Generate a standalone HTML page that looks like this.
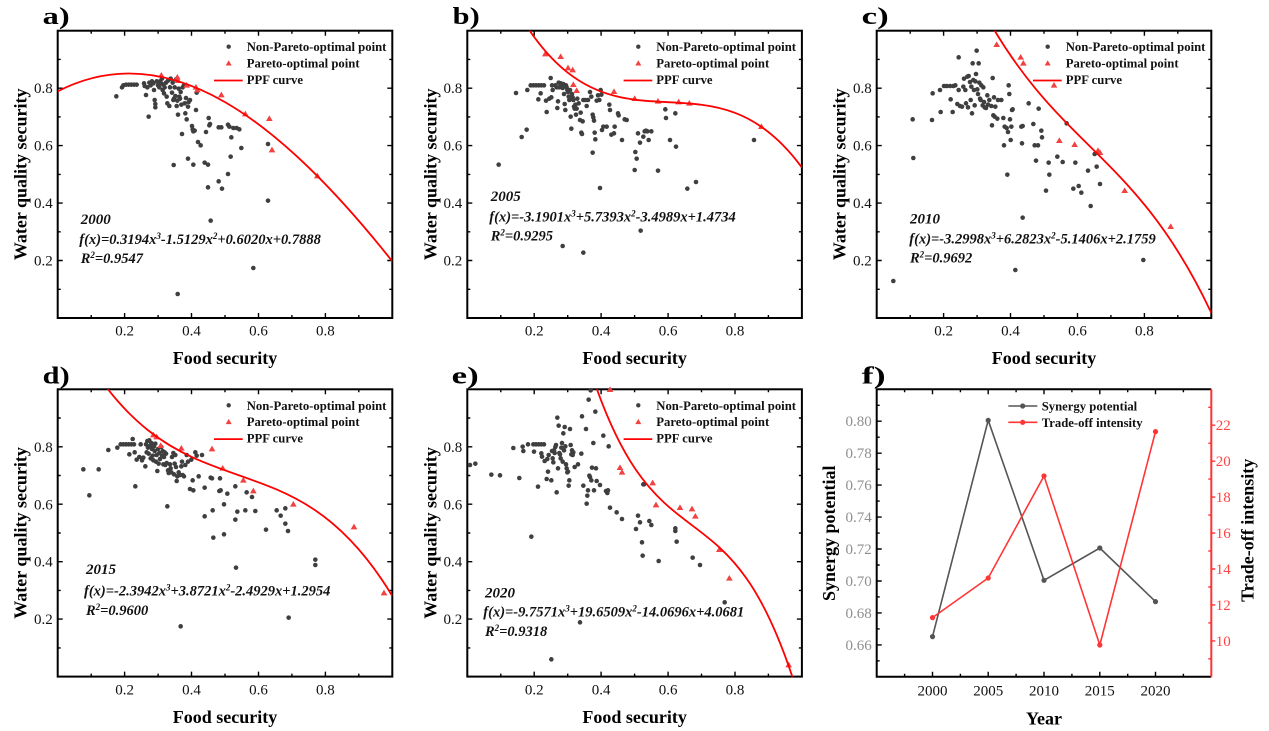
<!DOCTYPE html>
<html><head><meta charset="utf-8"><style>
html,body{margin:0;padding:0;background:#fff}
svg{display:block;font-family:"Liberation Serif","Times New Roman",serif}
</style></head><body>
<svg width="1269" height="731" viewBox="0 0 1269 731" xmlns="http://www.w3.org/2000/svg" xmlns:xlink="http://www.w3.org/1999/xlink">
<defs>
<clipPath id="cp" clipPathUnits="userSpaceOnUse"><rect x="0" y="0" width="1" height="1"/></clipPath>
<path id="t" d="M0-10L10 7H-10Z"/>
<g id="fr">
<rect x="0" y="0" width="334.6" height="287.3" fill="none" stroke="#000" stroke-width="2"/>
<path fill="none" stroke="#000" stroke-width="1.4" d="M66.9 287.3v-5M133.8 287.3v-5M200.8 287.3v-5M267.7 287.3v-5M33.5 287.3v-3M100.4 287.3v-3M167.3 287.3v-3M234.2 287.3v-3M301.1 287.3v-3M66.9 0v5M133.8 0v5M200.8 0v5M267.7 0v5M33.5 0v3M100.4 0v3M167.3 0v3M234.2 0v3M301.1 0v3M0 57.5h5M0 114.9h5M0 172.4h5M0 229.8h5M0 28.7h3M0 86.2h3M0 143.7h3M0 201.1h3M0 258.6h3M334.6 57.5h-5M334.6 114.9h-5M334.6 172.4h-5M334.6 229.8h-5M334.6 28.7h-3M334.6 86.2h-3M334.6 143.7h-3M334.6 201.1h-3M334.6 258.6h-3"/>
<g font-size="15" fill="#111" text-anchor="middle">
<text x="66.9" y="305">0.2</text><text x="133.8" y="305">0.4</text><text x="200.8" y="305">0.6</text><text x="267.7" y="305">0.8</text>
</g>
<g font-size="15" fill="#111" text-anchor="end">
<text x="-5" y="62.5">0.8</text><text x="-5" y="120">0.6</text><text x="-5" y="177.4">0.4</text><text x="-5" y="234.8">0.2</text>
</g>
<text x="167.3" y="333.5" font-size="18" font-weight="bold" text-anchor="middle">Food security</text>
<text transform="translate(-31,143.6) rotate(-90)" font-size="18" font-weight="bold" text-anchor="middle">Water quality security</text>
<circle cx="171" cy="16" r="2.2" fill="#404040"/>
<path d="M171 29.6L174 34.8H168Z" fill="#f24141"/>
<path d="M156.3 49.8H185" stroke="#ff0000" stroke-width="1.8"/>
<g font-size="12.7" font-weight="bold" fill="#111">
<text x="189" y="20.5">Non-Pareto-optimal point</text>
<text x="189" y="36.8">Pareto-optimal point</text>
<text x="189" y="53.2">PPF curve</text>
</g>
</g>
</defs>

<use href="#fr" xlink:href="#fr" x="57.7" y="30.7"/>
<use href="#fr" xlink:href="#fr" x="467.3" y="30.7"/>
<use href="#fr" xlink:href="#fr" x="876.7" y="30.7"/>
<use href="#fr" xlink:href="#fr" x="57.7" y="389.3"/>
<use href="#fr" xlink:href="#fr" x="467.3" y="389.3"/>

<g font-size="24" font-weight="bold" fill="#000">
<text x="42.7" y="24" textLength="27" lengthAdjust="spacingAndGlyphs">a)</text>
<text x="452.7" y="24" textLength="27" lengthAdjust="spacingAndGlyphs">b)</text>
<text x="861.7" y="24" textLength="27" lengthAdjust="spacingAndGlyphs">c)</text>
<text x="42.7" y="383.3" textLength="27" lengthAdjust="spacingAndGlyphs">d)</text>
<text x="451.7" y="383.3" textLength="27" lengthAdjust="spacingAndGlyphs">e)</text>
<text x="861.7" y="383.3" textLength="24" lengthAdjust="spacingAndGlyphs">f)</text>
</g>

<g fill="#3f3f3f" transform="translate(0 0) scale(0.333333)">
<circle cx="349" cy="289" r="6.9"/><circle cx="366" cy="262" r="6.9"/><circle cx="370" cy="256" r="6.9"/><circle cx="378" cy="254" r="6.9"/><circle cx="386" cy="254" r="6.9"/><circle cx="394" cy="254" r="6.9"/><circle cx="402" cy="254" r="6.9"/><circle cx="410" cy="254" r="6.9"/>
<circle cx="432" cy="250" r="6.9"/><circle cx="434" cy="258" r="6.9"/><circle cx="438" cy="285" r="6.9"/><circle cx="442" cy="262" r="6.9"/><circle cx="446" cy="350" r="6.9"/><circle cx="448" cy="248" r="6.9"/><circle cx="452" cy="256" r="6.9"/><circle cx="456" cy="244" r="6.9"/><circle cx="460" cy="250" r="6.9"/><circle cx="462" cy="270" r="6.9"/><circle cx="464" cy="300" r="6.9"/><circle cx="466" cy="312" r="6.9"/><circle cx="466" cy="322" r="6.9"/><circle cx="470" cy="244" r="6.9"/><circle cx="474" cy="256" r="6.9"/><circle cx="478" cy="262" r="6.9"/><circle cx="480" cy="244" r="6.9"/><circle cx="484" cy="250" r="6.9"/><circle cx="486" cy="236" r="6.9"/><circle cx="488" cy="270" r="6.9"/><circle cx="490" cy="254" r="6.9"/><circle cx="492" cy="280" r="6.9"/><circle cx="494" cy="262" r="6.9"/><circle cx="498" cy="248" r="6.9"/><circle cx="500" cy="290" r="6.9"/><circle cx="502" cy="310" r="6.9"/><circle cx="504" cy="242" r="6.9"/><circle cx="508" cy="318" r="6.9"/><circle cx="510" cy="262" r="6.9"/><circle cx="512" cy="236" r="6.9"/><circle cx="516" cy="278" r="6.9"/><circle cx="518" cy="248" r="6.9"/><circle cx="520" cy="300" r="6.9"/><circle cx="522" cy="296" r="6.9"/><circle cx="524" cy="262" r="6.9"/><circle cx="526" cy="288" r="6.9"/><circle cx="528" cy="238" r="6.9"/><circle cx="530" cy="318" r="6.9"/><circle cx="532" cy="302" r="6.9"/><circle cx="534" cy="344" r="6.9"/><circle cx="536" cy="266" r="6.9"/><circle cx="538" cy="290" r="6.9"/><circle cx="540" cy="296" r="6.9"/><circle cx="542" cy="276" r="6.9"/><circle cx="544" cy="314" r="6.9"/><circle cx="546" cy="402" r="6.9"/><circle cx="548" cy="262" r="6.9"/><circle cx="552" cy="256" r="6.9"/><circle cx="554" cy="310" r="6.9"/><circle cx="556" cy="340" r="6.9"/><circle cx="558" cy="294" r="6.9"/><circle cx="560" cy="358" r="6.9"/><circle cx="564" cy="320" r="6.9"/><circle cx="566" cy="306" r="6.9"/><circle cx="570" cy="300" r="6.9"/><circle cx="576" cy="378" r="6.9"/><circle cx="578" cy="388" r="6.9"/><circle cx="580" cy="394" r="6.9"/><circle cx="584" cy="392" r="6.9"/><circle cx="588" cy="330" r="6.9"/><circle cx="590" cy="278" r="6.9"/><circle cx="594" cy="426" r="6.9"/><circle cx="602" cy="436" r="6.9"/><circle cx="614" cy="488" r="6.9"/><circle cx="624" cy="494" r="6.9"/><circle cx="626" cy="354" r="6.9"/><circle cx="628" cy="376" r="6.9"/><circle cx="630" cy="372" r="6.9"/><circle cx="618" cy="396" r="6.9"/><circle cx="580" cy="494" r="6.9"/><circle cx="564" cy="476" r="6.9"/><circle cx="656" cy="382" r="6.9"/><circle cx="664" cy="382" r="6.9"/><circle cx="684" cy="374" r="6.9"/><circle cx="688" cy="380" r="6.9"/><circle cx="694" cy="412" r="6.9"/><circle cx="700" cy="384" r="6.9"/><circle cx="710" cy="384" r="6.9"/><circle cx="718" cy="388" r="6.9"/><circle cx="724" cy="444" r="6.9"/><circle cx="692" cy="470" r="6.9"/><circle cx="656" cy="544" r="6.9"/><circle cx="666" cy="566" r="6.9"/><circle cx="684" cy="522" r="6.9"/><circle cx="624" cy="562" r="6.9"/><circle cx="632" cy="662" r="6.9"/><circle cx="533" cy="882" r="6.9"/><circle cx="760" cy="804" r="6.9"/><circle cx="804" cy="432" r="6.9"/><circle cx="804" cy="602" r="6.9"/><circle cx="521" cy="495" r="6.9"/>
</g>
<g fill="#f24141" transform="translate(0 0) scale(0.333333)">
<use href="#t" xlink:href="#t" x="484" y="226"/><use href="#t" xlink:href="#t" x="532" y="232"/><use href="#t" xlink:href="#t" x="534" y="242"/><use href="#t" xlink:href="#t" x="560" y="256"/><use href="#t" xlink:href="#t" x="588" y="262"/><use href="#t" xlink:href="#t" x="592" y="270"/><use href="#t" xlink:href="#t" x="664" y="285"/><use href="#t" xlink:href="#t" x="736" y="342"/><use href="#t" xlink:href="#t" x="808" y="356"/><use href="#t" xlink:href="#t" x="816" y="450"/><use href="#t" xlink:href="#t" x="952" y="528"/>
</g>

<g fill="#3f3f3f" transform="translate(410 0) scale(0.333333)">
<circle cx="318" cy="279" r="6.9"/><circle cx="350" cy="389" r="6.9"/><circle cx="335" cy="411" r="6.9"/><circle cx="266" cy="494" r="6.9"/><circle cx="352" cy="270" r="6.9"/><circle cx="362" cy="256" r="6.9"/><circle cx="370" cy="256" r="6.9"/><circle cx="378" cy="256" r="6.9"/><circle cx="386" cy="256" r="6.9"/><circle cx="394" cy="256" r="6.9"/><circle cx="402" cy="256" r="6.9"/><circle cx="385" cy="298" r="6.9"/><circle cx="392" cy="280" r="6.9"/><circle cx="410" cy="336" r="6.9"/><circle cx="408" cy="302" r="6.9"/><circle cx="418" cy="296" r="6.9"/><circle cx="422" cy="234" r="6.9"/><circle cx="424" cy="292" r="6.9"/><circle cx="426" cy="256" r="6.9"/><circle cx="428" cy="270" r="6.9"/><circle cx="436" cy="256" r="6.9"/><circle cx="440" cy="262" r="6.9"/><circle cx="442" cy="324" r="6.9"/><circle cx="444" cy="304" r="6.9"/><circle cx="446" cy="248" r="6.9"/><circle cx="448" cy="262" r="6.9"/><circle cx="452" cy="250" r="6.9"/><circle cx="456" cy="258" r="6.9"/><circle cx="458" cy="264" r="6.9"/><circle cx="460" cy="252" r="6.9"/><circle cx="462" cy="282" r="6.9"/><circle cx="464" cy="312" r="6.9"/><circle cx="466" cy="330" r="6.9"/><circle cx="468" cy="256" r="6.9"/><circle cx="470" cy="262" r="6.9"/><circle cx="472" cy="270" r="6.9"/><circle cx="474" cy="276" r="6.9"/><circle cx="476" cy="290" r="6.9"/><circle cx="478" cy="300" r="6.9"/><circle cx="480" cy="270" r="6.9"/><circle cx="482" cy="350" r="6.9"/><circle cx="484" cy="386" r="6.9"/><circle cx="486" cy="282" r="6.9"/><circle cx="488" cy="292" r="6.9"/><circle cx="490" cy="300" r="6.9"/><circle cx="492" cy="320" r="6.9"/><circle cx="494" cy="326" r="6.9"/><circle cx="496" cy="314" r="6.9"/><circle cx="498" cy="344" r="6.9"/><circle cx="500" cy="326" r="6.9"/><circle cx="502" cy="296" r="6.9"/><circle cx="506" cy="310" r="6.9"/><circle cx="510" cy="360" r="6.9"/><circle cx="512" cy="338" r="6.9"/><circle cx="514" cy="398" r="6.9"/><circle cx="516" cy="402" r="6.9"/><circle cx="518" cy="364" r="6.9"/><circle cx="520" cy="300" r="6.9"/><circle cx="526" cy="300" r="6.9"/><circle cx="530" cy="318" r="6.9"/><circle cx="534" cy="300" r="6.9"/><circle cx="540" cy="276" r="6.9"/><circle cx="544" cy="290" r="6.9"/><circle cx="548" cy="344" r="6.9"/><circle cx="550" cy="352" r="6.9"/><circle cx="552" cy="362" r="6.9"/><circle cx="554" cy="398" r="6.9"/><circle cx="556" cy="418" r="6.9"/><circle cx="560" cy="302" r="6.9"/><circle cx="564" cy="286" r="6.9"/><circle cx="568" cy="300" r="6.9"/><circle cx="572" cy="270" r="6.9"/><circle cx="574" cy="284" r="6.9"/><circle cx="576" cy="390" r="6.9"/><circle cx="580" cy="380" r="6.9"/><circle cx="590" cy="380" r="6.9"/><circle cx="598" cy="314" r="6.9"/><circle cx="600" cy="330" r="6.9"/><circle cx="604" cy="404" r="6.9"/><circle cx="612" cy="400" r="6.9"/><circle cx="614" cy="380" r="6.9"/><circle cx="624" cy="340" r="6.9"/><circle cx="626" cy="346" r="6.9"/><circle cx="636" cy="420" r="6.9"/><circle cx="644" cy="358" r="6.9"/><circle cx="650" cy="360" r="6.9"/><circle cx="676" cy="456" r="6.9"/><circle cx="680" cy="476" r="6.9"/><circle cx="674" cy="510" r="6.9"/><circle cx="684" cy="400" r="6.9"/><circle cx="700" cy="410" r="6.9"/><circle cx="704" cy="394" r="6.9"/><circle cx="712" cy="394" r="6.9"/><circle cx="716" cy="420" r="6.9"/><circle cx="724" cy="394" r="6.9"/><circle cx="744" cy="512" r="6.9"/><circle cx="766" cy="328" r="6.9"/><circle cx="768" cy="354" r="6.9"/><circle cx="780" cy="420" r="6.9"/><circle cx="796" cy="340" r="6.9"/><circle cx="798" cy="440" r="6.9"/><circle cx="832" cy="566" r="6.9"/><circle cx="858" cy="546" r="6.9"/><circle cx="1032" cy="420" r="6.9"/><circle cx="570" cy="564" r="6.9"/><circle cx="458" cy="738" r="6.9"/><circle cx="520" cy="758" r="6.9"/><circle cx="692" cy="692" r="6.9"/><circle cx="548" cy="458" r="6.9"/><circle cx="690" cy="428" r="6.9"/><circle cx="708" cy="392" r="6.9"/>
</g>
<g fill="#f24141" transform="translate(410 0) scale(0.333333)">
<use href="#t" xlink:href="#t" x="406" y="162"/><use href="#t" xlink:href="#t" x="452" y="170"/><use href="#t" xlink:href="#t" x="474" y="204"/><use href="#t" xlink:href="#t" x="488" y="210"/><use href="#t" xlink:href="#t" x="490" y="254"/><use href="#t" xlink:href="#t" x="500" y="272"/><use href="#t" xlink:href="#t" x="612" y="275"/><use href="#t" xlink:href="#t" x="674" y="296"/><use href="#t" xlink:href="#t" x="744" y="304"/><use href="#t" xlink:href="#t" x="806" y="306"/><use href="#t" xlink:href="#t" x="838" y="310"/><use href="#t" xlink:href="#t" x="1054" y="380"/>
</g>

<g fill="#3f3f3f" transform="translate(840 0) scale(0.333333)">
<circle cx="160" cy="843" r="6.9"/><circle cx="218" cy="358" r="6.9"/><circle cx="220" cy="474" r="6.9"/><circle cx="278" cy="280" r="6.9"/><circle cx="276" cy="360" r="6.9"/><circle cx="300" cy="270" r="6.9"/><circle cx="302" cy="336" r="6.9"/><circle cx="312" cy="258" r="6.9"/><circle cx="320" cy="258" r="6.9"/><circle cx="330" cy="258" r="6.9"/><circle cx="340" cy="258" r="6.9"/><circle cx="346" cy="256" r="6.9"/><circle cx="332" cy="298" r="6.9"/><circle cx="338" cy="336" r="6.9"/><circle cx="352" cy="312" r="6.9"/><circle cx="356" cy="172" r="6.9"/><circle cx="356" cy="270" r="6.9"/><circle cx="360" cy="318" r="6.9"/><circle cx="366" cy="320" r="6.9"/><circle cx="370" cy="260" r="6.9"/><circle cx="372" cy="236" r="6.9"/><circle cx="376" cy="270" r="6.9"/><circle cx="378" cy="310" r="6.9"/><circle cx="382" cy="230" r="6.9"/><circle cx="384" cy="322" r="6.9"/><circle cx="386" cy="228" r="6.9"/><circle cx="390" cy="246" r="6.9"/><circle cx="392" cy="300" r="6.9"/><circle cx="394" cy="260" r="6.9"/><circle cx="396" cy="340" r="6.9"/><circle cx="398" cy="190" r="6.9"/><circle cx="400" cy="240" r="6.9"/><circle cx="402" cy="270" r="6.9"/><circle cx="404" cy="316" r="6.9"/><circle cx="406" cy="244" r="6.9"/><circle cx="408" cy="222" r="6.9"/><circle cx="410" cy="152" r="6.9"/><circle cx="412" cy="268" r="6.9"/><circle cx="414" cy="282" r="6.9"/><circle cx="416" cy="190" r="6.9"/><circle cx="418" cy="248" r="6.9"/><circle cx="420" cy="296" r="6.9"/><circle cx="422" cy="300" r="6.9"/><circle cx="424" cy="256" r="6.9"/><circle cx="428" cy="316" r="6.9"/><circle cx="430" cy="262" r="6.9"/><circle cx="432" cy="306" r="6.9"/><circle cx="434" cy="322" r="6.9"/><circle cx="438" cy="324" r="6.9"/><circle cx="442" cy="286" r="6.9"/><circle cx="444" cy="314" r="6.9"/><circle cx="448" cy="300" r="6.9"/><circle cx="454" cy="318" r="6.9"/><circle cx="456" cy="376" r="6.9"/><circle cx="458" cy="234" r="6.9"/><circle cx="460" cy="346" r="6.9"/><circle cx="462" cy="292" r="6.9"/><circle cx="464" cy="350" r="6.9"/><circle cx="466" cy="320" r="6.9"/><circle cx="472" cy="356" r="6.9"/><circle cx="474" cy="300" r="6.9"/><circle cx="484" cy="300" r="6.9"/><circle cx="490" cy="354" r="6.9"/><circle cx="492" cy="436" r="6.9"/><circle cx="494" cy="380" r="6.9"/><circle cx="500" cy="384" r="6.9"/><circle cx="502" cy="524" r="6.9"/><circle cx="504" cy="396" r="6.9"/><circle cx="506" cy="256" r="6.9"/><circle cx="508" cy="282" r="6.9"/><circle cx="510" cy="358" r="6.9"/><circle cx="512" cy="420" r="6.9"/><circle cx="514" cy="380" r="6.9"/><circle cx="516" cy="330" r="6.9"/><circle cx="518" cy="328" r="6.9"/><circle cx="526" cy="810" r="6.9"/><circle cx="544" cy="380" r="6.9"/><circle cx="546" cy="430" r="6.9"/><circle cx="548" cy="378" r="6.9"/><circle cx="566" cy="310" r="6.9"/><circle cx="580" cy="372" r="6.9"/><circle cx="584" cy="436" r="6.9"/><circle cx="588" cy="482" r="6.9"/><circle cx="594" cy="436" r="6.9"/><circle cx="596" cy="326" r="6.9"/><circle cx="604" cy="392" r="6.9"/><circle cx="606" cy="412" r="6.9"/><circle cx="618" cy="572" r="6.9"/><circle cx="626" cy="488" r="6.9"/><circle cx="628" cy="524" r="6.9"/><circle cx="652" cy="470" r="6.9"/><circle cx="668" cy="486" r="6.9"/><circle cx="680" cy="370" r="6.9"/><circle cx="700" cy="566" r="6.9"/><circle cx="706" cy="488" r="6.9"/><circle cx="716" cy="558" r="6.9"/><circle cx="724" cy="578" r="6.9"/><circle cx="744" cy="512" r="6.9"/><circle cx="752" cy="618" r="6.9"/><circle cx="764" cy="462" r="6.9"/><circle cx="770" cy="500" r="6.9"/><circle cx="780" cy="552" r="6.9"/><circle cx="910" cy="780" r="6.9"/><circle cx="548" cy="653" r="6.9"/>
</g>
<g fill="#f24141" transform="translate(840 0) scale(0.333333)">
<use href="#t" xlink:href="#t" x="470" y="134"/><use href="#t" xlink:href="#t" x="542" y="172"/><use href="#t" xlink:href="#t" x="550" y="190"/><use href="#t" xlink:href="#t" x="642" y="256"/><use href="#t" xlink:href="#t" x="658" y="422"/><use href="#t" xlink:href="#t" x="704" y="434"/><use href="#t" xlink:href="#t" x="774" y="452"/><use href="#t" xlink:href="#t" x="780" y="458"/><use href="#t" xlink:href="#t" x="854" y="572"/><use href="#t" xlink:href="#t" x="992" y="680"/>
</g>

<g fill="#3f3f3f" transform="translate(0 365) scale(0.333333)">
<circle cx="250" cy="313" r="6.9"/><circle cx="268" cy="391" r="6.9"/><circle cx="296" cy="313" r="6.9"/><circle cx="325" cy="255" r="6.9"/><circle cx="352" cy="248" r="6.9"/><circle cx="362" cy="238" r="6.9"/><circle cx="370" cy="238" r="6.9"/><circle cx="378" cy="238" r="6.9"/><circle cx="386" cy="238" r="6.9"/><circle cx="394" cy="238" r="6.9"/><circle cx="402" cy="238" r="6.9"/><circle cx="388" cy="268" r="6.9"/><circle cx="398" cy="222" r="6.9"/><circle cx="404" cy="262" r="6.9"/><circle cx="406" cy="364" r="6.9"/><circle cx="410" cy="284" r="6.9"/><circle cx="418" cy="276" r="6.9"/><circle cx="422" cy="238" r="6.9"/><circle cx="426" cy="286" r="6.9"/><circle cx="430" cy="278" r="6.9"/><circle cx="436" cy="304" r="6.9"/><circle cx="438" cy="238" r="6.9"/><circle cx="440" cy="262" r="6.9"/><circle cx="442" cy="228" r="6.9"/><circle cx="444" cy="248" r="6.9"/><circle cx="446" cy="266" r="6.9"/><circle cx="448" cy="226" r="6.9"/><circle cx="450" cy="242" r="6.9"/><circle cx="452" cy="280" r="6.9"/><circle cx="454" cy="234" r="6.9"/><circle cx="456" cy="252" r="6.9"/><circle cx="458" cy="272" r="6.9"/><circle cx="460" cy="286" r="6.9"/><circle cx="462" cy="244" r="6.9"/><circle cx="464" cy="258" r="6.9"/><circle cx="466" cy="236" r="6.9"/><circle cx="468" cy="290" r="6.9"/><circle cx="470" cy="270" r="6.9"/><circle cx="472" cy="318" r="6.9"/><circle cx="474" cy="252" r="6.9"/><circle cx="476" cy="296" r="6.9"/><circle cx="478" cy="264" r="6.9"/><circle cx="480" cy="282" r="6.9"/><circle cx="484" cy="246" r="6.9"/><circle cx="486" cy="272" r="6.9"/><circle cx="488" cy="258" r="6.9"/><circle cx="490" cy="298" r="6.9"/><circle cx="492" cy="276" r="6.9"/><circle cx="494" cy="262" r="6.9"/><circle cx="496" cy="300" r="6.9"/><circle cx="498" cy="266" r="6.9"/><circle cx="500" cy="294" r="6.9"/><circle cx="502" cy="424" r="6.9"/><circle cx="504" cy="316" r="6.9"/><circle cx="506" cy="324" r="6.9"/><circle cx="510" cy="298" r="6.9"/><circle cx="512" cy="310" r="6.9"/><circle cx="514" cy="322" r="6.9"/><circle cx="516" cy="276" r="6.9"/><circle cx="520" cy="264" r="6.9"/><circle cx="522" cy="328" r="6.9"/><circle cx="524" cy="296" r="6.9"/><circle cx="526" cy="270" r="6.9"/><circle cx="528" cy="306" r="6.9"/><circle cx="530" cy="348" r="6.9"/><circle cx="532" cy="334" r="6.9"/><circle cx="536" cy="322" r="6.9"/><circle cx="540" cy="330" r="6.9"/><circle cx="544" cy="304" r="6.9"/><circle cx="546" cy="290" r="6.9"/><circle cx="548" cy="330" r="6.9"/><circle cx="552" cy="334" r="6.9"/><circle cx="556" cy="300" r="6.9"/><circle cx="560" cy="270" r="6.9"/><circle cx="564" cy="290" r="6.9"/><circle cx="570" cy="372" r="6.9"/><circle cx="574" cy="284" r="6.9"/><circle cx="578" cy="346" r="6.9"/><circle cx="580" cy="376" r="6.9"/><circle cx="586" cy="262" r="6.9"/><circle cx="590" cy="272" r="6.9"/><circle cx="596" cy="334" r="6.9"/><circle cx="606" cy="270" r="6.9"/><circle cx="614" cy="368" r="6.9"/><circle cx="614" cy="454" r="6.9"/><circle cx="632" cy="338" r="6.9"/><circle cx="636" cy="340" r="6.9"/><circle cx="638" cy="436" r="6.9"/><circle cx="640" cy="518" r="6.9"/><circle cx="658" cy="378" r="6.9"/><circle cx="660" cy="340" r="6.9"/><circle cx="662" cy="376" r="6.9"/><circle cx="672" cy="418" r="6.9"/><circle cx="672" cy="508" r="6.9"/><circle cx="682" cy="386" r="6.9"/><circle cx="706" cy="364" r="6.9"/><circle cx="706" cy="464" r="6.9"/><circle cx="708" cy="608" r="6.9"/><circle cx="712" cy="440" r="6.9"/><circle cx="736" cy="436" r="6.9"/><circle cx="740" cy="382" r="6.9"/><circle cx="756" cy="396" r="6.9"/><circle cx="766" cy="438" r="6.9"/><circle cx="798" cy="494" r="6.9"/><circle cx="830" cy="436" r="6.9"/><circle cx="842" cy="452" r="6.9"/><circle cx="856" cy="430" r="6.9"/><circle cx="856" cy="476" r="6.9"/><circle cx="864" cy="498" r="6.9"/><circle cx="946" cy="584" r="6.9"/><circle cx="946" cy="600" r="6.9"/><circle cx="866" cy="758" r="6.9"/><circle cx="542" cy="784" r="6.9"/>
</g>
<g fill="#f24141" transform="translate(0 365) scale(0.333333)">
<use href="#t" xlink:href="#t" x="460" y="210"/><use href="#t" xlink:href="#t" x="470" y="216"/><use href="#t" xlink:href="#t" x="482" y="242"/><use href="#t" xlink:href="#t" x="544" y="250"/><use href="#t" xlink:href="#t" x="636" y="252"/><use href="#t" xlink:href="#t" x="668" y="310"/><use href="#t" xlink:href="#t" x="730" y="346"/><use href="#t" xlink:href="#t" x="760" y="378"/><use href="#t" xlink:href="#t" x="880" y="418"/><use href="#t" xlink:href="#t" x="1062" y="486"/><use href="#t" xlink:href="#t" x="1152" y="684"/>
</g>

<g fill="#3f3f3f" transform="translate(410 365) scale(0.333333)">
<circle cx="180" cy="300" r="6.9"/><circle cx="196" cy="296" r="6.9"/><circle cx="244" cy="329" r="6.9"/><circle cx="270" cy="331" r="6.9"/><circle cx="310" cy="249" r="6.9"/><circle cx="328" cy="339" r="6.9"/><circle cx="338" cy="245" r="6.9"/><circle cx="340" cy="258" r="6.9"/><circle cx="354" cy="238" r="6.9"/><circle cx="364" cy="515" r="6.9"/><circle cx="370" cy="238" r="6.9"/><circle cx="378" cy="238" r="6.9"/><circle cx="386" cy="238" r="6.9"/><circle cx="394" cy="238" r="6.9"/><circle cx="402" cy="238" r="6.9"/><circle cx="372" cy="260" r="6.9"/><circle cx="384" cy="365" r="6.9"/><circle cx="394" cy="265" r="6.9"/><circle cx="396" cy="275" r="6.9"/><circle cx="404" cy="288" r="6.9"/><circle cx="410" cy="342" r="6.9"/><circle cx="412" cy="282" r="6.9"/><circle cx="414" cy="320" r="6.9"/><circle cx="416" cy="270" r="6.9"/><circle cx="424" cy="346" r="6.9"/><circle cx="426" cy="258" r="6.9"/><circle cx="428" cy="280" r="6.9"/><circle cx="430" cy="292" r="6.9"/><circle cx="432" cy="256" r="6.9"/><circle cx="434" cy="264" r="6.9"/><circle cx="436" cy="246" r="6.9"/><circle cx="438" cy="240" r="6.9"/><circle cx="440" cy="382" r="6.9"/><circle cx="442" cy="158" r="6.9"/><circle cx="444" cy="310" r="6.9"/><circle cx="446" cy="182" r="6.9"/><circle cx="448" cy="264" r="6.9"/><circle cx="450" cy="268" r="6.9"/><circle cx="452" cy="280" r="6.9"/><circle cx="454" cy="248" r="6.9"/><circle cx="456" cy="234" r="6.9"/><circle cx="458" cy="290" r="6.9"/><circle cx="460" cy="205" r="6.9"/><circle cx="462" cy="256" r="6.9"/><circle cx="464" cy="186" r="6.9"/><circle cx="466" cy="244" r="6.9"/><circle cx="468" cy="298" r="6.9"/><circle cx="470" cy="310" r="6.9"/><circle cx="472" cy="322" r="6.9"/><circle cx="474" cy="320" r="6.9"/><circle cx="476" cy="362" r="6.9"/><circle cx="478" cy="346" r="6.9"/><circle cx="480" cy="192" r="6.9"/><circle cx="482" cy="240" r="6.9"/><circle cx="484" cy="268" r="6.9"/><circle cx="486" cy="256" r="6.9"/><circle cx="488" cy="270" r="6.9"/><circle cx="490" cy="262" r="6.9"/><circle cx="494" cy="306" r="6.9"/><circle cx="504" cy="298" r="6.9"/><circle cx="514" cy="266" r="6.9"/><circle cx="516" cy="154" r="6.9"/><circle cx="520" cy="362" r="6.9"/><circle cx="528" cy="192" r="6.9"/><circle cx="530" cy="416" r="6.9"/><circle cx="532" cy="392" r="6.9"/><circle cx="534" cy="376" r="6.9"/><circle cx="536" cy="104" r="6.9"/><circle cx="538" cy="332" r="6.9"/><circle cx="540" cy="336" r="6.9"/><circle cx="542" cy="76" r="6.9"/><circle cx="544" cy="346" r="6.9"/><circle cx="546" cy="308" r="6.9"/><circle cx="550" cy="234" r="6.9"/><circle cx="552" cy="376" r="6.9"/><circle cx="556" cy="140" r="6.9"/><circle cx="558" cy="310" r="6.9"/><circle cx="560" cy="348" r="6.9"/><circle cx="570" cy="360" r="6.9"/><circle cx="580" cy="212" r="6.9"/><circle cx="588" cy="378" r="6.9"/><circle cx="592" cy="384" r="6.9"/><circle cx="594" cy="376" r="6.9"/><circle cx="596" cy="244" r="6.9"/><circle cx="600" cy="428" r="6.9"/><circle cx="620" cy="442" r="6.9"/><circle cx="636" cy="462" r="6.9"/><circle cx="678" cy="492" r="6.9"/><circle cx="684" cy="452" r="6.9"/><circle cx="690" cy="472" r="6.9"/><circle cx="696" cy="532" r="6.9"/><circle cx="698" cy="572" r="6.9"/><circle cx="700" cy="358" r="6.9"/><circle cx="702" cy="358" r="6.9"/><circle cx="718" cy="468" r="6.9"/><circle cx="724" cy="480" r="6.9"/><circle cx="746" cy="588" r="6.9"/><circle cx="796" cy="490" r="6.9"/><circle cx="796" cy="498" r="6.9"/><circle cx="800" cy="530" r="6.9"/><circle cx="848" cy="578" r="6.9"/><circle cx="870" cy="600" r="6.9"/><circle cx="944" cy="712" r="6.9"/><circle cx="510" cy="772" r="6.9"/><circle cx="424" cy="883" r="6.9"/>
</g>
<g fill="#f24141" transform="translate(410 365) scale(0.333333)">
<use href="#t" xlink:href="#t" x="600" y="74"/><use href="#t" xlink:href="#t" x="630" y="308"/><use href="#t" xlink:href="#t" x="636" y="322"/><use href="#t" xlink:href="#t" x="728" y="354"/><use href="#t" xlink:href="#t" x="738" y="420"/><use href="#t" xlink:href="#t" x="810" y="428"/><use href="#t" xlink:href="#t" x="846" y="432"/><use href="#t" xlink:href="#t" x="856" y="454"/><use href="#t" xlink:href="#t" x="928" y="554"/><use href="#t" xlink:href="#t" x="958" y="640"/><use href="#t" xlink:href="#t" x="1136" y="900"/>
</g>

<g fill="none" stroke="#ff0000" stroke-width="1.8">
<g transform="translate(57.7 318) scale(334.6 -287.3)"><path clip-path="url(#cp)" vector-effect="non-scaling-stroke" d="M0 0.7888C0.333333 0.98947 0.666667 0.68583 1 0.1973"/></g>
<g transform="translate(467.3 318) scale(334.6 -287.3)"><path clip-path="url(#cp)" vector-effect="non-scaling-stroke" d="M0 1.4734C0.333333 0.3071 0.666667 1.0539 1 0.5237"/></g>
<g transform="translate(876.7 318) scale(334.6 -287.3)"><path clip-path="url(#cp)" vector-effect="non-scaling-stroke" d="M0 2.1759C0.333333 0.46237 0.666667 0.84293 1 0.0178"/></g>
<g transform="translate(57.7 676.6) scale(334.6 -287.3)"><path clip-path="url(#cp)" vector-effect="non-scaling-stroke" d="M0 1.2954C0.333333 0.46443 0.666667 0.92417 1 0.2804"/></g>
<g transform="translate(467.3 676.6) scale(334.6 -287.3)"><path clip-path="url(#cp)" vector-effect="non-scaling-stroke" d="M0 4.0681C0.333333 -0.62177 0.666667 1.23867 1 -0.1077"/></g>
</g>

<g font-weight="bold" font-style="italic" fill="#111">
<text x="80.7" y="223.9" font-size="15">2000</text>
<text x="79.3" y="243.9" font-size="14.5">f(x)=0.3194x<tspan dy="-5" font-size="9">3</tspan><tspan dy="5">-1.5129x</tspan><tspan dy="-5" font-size="9">2</tspan><tspan dy="5">+0.6020x+0.7888</tspan></text>
<text x="80.7" y="262.9" font-size="14.5">R<tspan dy="-5" font-size="9">2</tspan><tspan dy="5">=0.9547</tspan></text>

<text x="490.7" y="200.9" font-size="15">2005</text>
<text x="489.3" y="221.7" font-size="14.5">f(x)=-3.1901x<tspan dy="-5" font-size="9">3</tspan><tspan dy="5">+5.7393x</tspan><tspan dy="-5" font-size="9">2</tspan><tspan dy="5">-3.4989x+1.4734</tspan></text>
<text x="490.7" y="240.7" font-size="14.5">R<tspan dy="-5" font-size="9">2</tspan><tspan dy="5">=0.9295</tspan></text>

<text x="910" y="223.3" font-size="15">2010</text>
<text x="909.3" y="243.3" font-size="14.5">f(x)=-3.2998x<tspan dy="-5" font-size="9">3</tspan><tspan dy="5">+6.2823x</tspan><tspan dy="-5" font-size="9">2</tspan><tspan dy="5">-5.1406x+2.1759</tspan></text>
<text x="910" y="262.7" font-size="14.5">R<tspan dy="-5" font-size="9">2</tspan><tspan dy="5">=0.9692</tspan></text>

<text x="86" y="574" font-size="15">2015</text>
<text x="84" y="595.7" font-size="14.5">f(x)=-2.3942x<tspan dy="-5" font-size="9">3</tspan><tspan dy="5">+3.8721x</tspan><tspan dy="-5" font-size="9">2</tspan><tspan dy="5">-2.4929x+1.2954</tspan></text>
<text x="86" y="615" font-size="14.5">R<tspan dy="-5" font-size="9">2</tspan><tspan dy="5">=0.9600</tspan></text>

<text x="485" y="597.3" font-size="15">2020</text>
<text x="483.3" y="616.7" font-size="14.5">f(x)=-9.7571x<tspan dy="-5" font-size="9">3</tspan><tspan dy="5">+19.6509x</tspan><tspan dy="-5" font-size="9">2</tspan><tspan dy="5">-14.0696x+4.0681</tspan></text>
<text x="485" y="636" font-size="14.5">R<tspan dy="-5" font-size="9">2</tspan><tspan dy="5">=0.9318</tspan></text>
</g>

<g transform="translate(876.7 389.3)">
<path d="M334.6 0H0V287.5H334.6" fill="none" stroke="#000" stroke-width="2"/>
<path d="M334.6 0V287.5" stroke="#ff3333" stroke-width="2"/>
<path fill="none" stroke="#000" stroke-width="1.4" d="M55.8 287.5v-5M111.5 287.5v-5M167.3 287.5v-5M223.1 287.5v-5M278.8 287.5v-5M27.9 287.5v-3M83.7 287.5v-3M139.4 287.5v-3M195.2 287.5v-3M251 287.5v-3M306.7 287.5v-3M55.8 0v5M111.5 0v5M167.3 0v5M223.1 0v5M278.8 0v5M27.9 0v3M83.7 0v3M139.4 0v3M195.2 0v3M251 0v3M306.7 0v3M0 31.9h5M0 63.9h5M0 95.8h5M0 127.8h5M0 159.7h5M0 191.7h5M0 223.6h5M0 255.6h5M0 16h3M0 47.9h3M0 79.9h3M0 111.8h3M0 143.8h3M0 175.7h3M0 207.6h3M0 239.6h3M0 271.5h3"/>
<path fill="none" stroke="#ff3333" stroke-width="1.4" d="M334.6 35.9h4M334.6 71.9h4M334.6 107.8h4M334.6 143.8h4M334.6 179.7h4M334.6 215.6h4M334.6 251.6h4M334.6 18h-3M334.6 53.9h-3M334.6 89.8h-3M334.6 125.8h-3M334.6 161.7h-3M334.6 197.7h-3M334.6 233.6h-3M334.6 269.5h-3"/>
<g font-size="15" fill="#111" text-anchor="middle">
<text x="55.8" y="306">2000</text><text x="111.5" y="306">2005</text><text x="167.3" y="306">2010</text><text x="223.1" y="306">2015</text><text x="278.8" y="306">2020</text>
</g>
<g font-size="15" fill="#8f8f8f" text-anchor="end">
<text x="-5" y="36.9">0.80</text><text x="-5" y="68.9">0.78</text><text x="-5" y="100.8">0.76</text><text x="-5" y="132.8">0.74</text><text x="-5" y="164.7">0.72</text><text x="-5" y="196.7">0.70</text><text x="-5" y="228.6">0.68</text><text x="-5" y="260.6">0.66</text>
</g>
<g font-size="15" fill="#ff4444">
<text x="339" y="40.9">22</text><text x="339" y="76.9">20</text><text x="339" y="112.8">18</text><text x="339" y="148.8">16</text><text x="339" y="184.7">14</text><text x="339" y="220.6">12</text><text x="339" y="256.6">10</text>
</g>
<text x="167.3" y="335" font-size="18" font-weight="bold" text-anchor="middle">Year</text>
<text transform="translate(-41.7,144) rotate(-90)" font-size="18" font-weight="bold" text-anchor="middle">Synergy potential</text>
<text transform="translate(376.6,141) rotate(-90)" font-size="18" font-weight="bold" text-anchor="middle">Trade-off intensity</text>
<polyline fill="none" stroke="#555" stroke-width="1.6" points="55.8,247.3 111.5,31 167.3,191 223.1,158.7 278.8,212.3"/>
<g fill="#555"><circle cx="55.8" cy="247.3" r="2.6"/><circle cx="111.5" cy="31" r="2.6"/><circle cx="167.3" cy="191" r="2.6"/><circle cx="223.1" cy="158.7" r="2.6"/><circle cx="278.8" cy="212.3" r="2.6"/></g>
<polyline fill="none" stroke="#ff3535" stroke-width="1.6" points="55.8,228.3 111.5,188.7 167.3,86.7 223.1,255.7 278.8,42.3"/>
<g fill="#ff3535"><circle cx="55.8" cy="228.3" r="2.6"/><circle cx="111.5" cy="188.7" r="2.6"/><circle cx="167.3" cy="86.7" r="2.6"/><circle cx="223.1" cy="255.7" r="2.6"/><circle cx="278.8" cy="42.3" r="2.6"/></g>
<path d="M131.6 16.7H160.6" stroke="#555" stroke-width="1.6"/><circle cx="146" cy="16.7" r="2.6" fill="#555"/>
<path d="M131.6 33H160.6" stroke="#ff3535" stroke-width="1.6"/><circle cx="146" cy="33" r="2.6" fill="#ff3535"/>
<g font-size="12.7" font-weight="bold" fill="#111">
<text x="165" y="21.2">Synergy potential</text>
<text x="165" y="37.5">Trade-off intensity</text>
</g>
</g>
</svg>
</body></html>
